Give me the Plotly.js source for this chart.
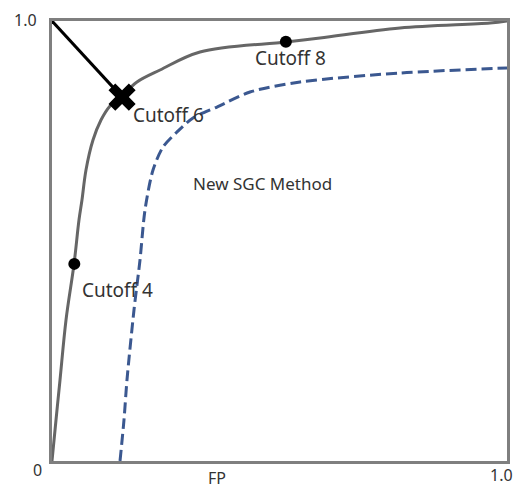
<!DOCTYPE html>
<html><head><meta charset="utf-8">
<script src="https://cdn.plot.ly/plotly-3.0.1.min.js"></script>
<style>body{margin:0;background:#fff}#c{width:525px;height:489px}</style>
</head><body><div id="c"></div>
<script>
// Gray ROC curve (cutoff-based method)
const rocX = [0, 0.0088, 0.0176, 0.0308, 0.0484, 0.0593, 0.0659, 0.0747, 0.0901, 0.1077, 0.1275, 0.1538, 0.1868, 0.2374, 0.3253, 0.5143, 0.5890, 0.7648, 0.9626, 1];
const rocY = [0, 0.0932, 0.1841, 0.3205, 0.4477, 0.5477, 0.5932, 0.6614, 0.7295, 0.775, 0.807, 0.830, 0.8614, 0.8886, 0.9295, 0.9523, 0.9614, 0.9841, 0.9955, 1];
// Blue dashed curve (New SGC Method)
const sgcX = [0.1495, 0.1582, 0.1648, 0.1802, 0.1934, 0.2044, 0.2220, 0.2440, 0.2747, 0.3099, 0.3626, 0.4352, 0.5451, 0.7648, 1];
const sgcY = [0, 0.0932, 0.1841, 0.3432, 0.4568, 0.5705, 0.6614, 0.7136, 0.7477, 0.7795, 0.8045, 0.8386, 0.8614, 0.8818, 0.8932];
// Cutoff points
const dotX = [0.049, 0.514];
const dotY = [0.448, 0.953];
const optX = [0.154];
const optY = [0.827];
// Line from ideal corner to optimal cutoff
const diagX = [0, 0.154];
const diagY = [1, 0.827];
// Labels
const labels = ["Cutoff 4", "Cutoff 6", "Cutoff 8", "New SGC Method"];
const labelX = [0.145, 0.255, 0.525, 0.463];
const labelY = [0.389, 0.786, 0.916, 0.630];
const labelSize = [19, 19, 19, 17];

const font = "Noto Sans, Open Sans, sans-serif";
const traces = [
  {x: sgcX, y: sgcY, mode: "lines", line: {color: "#3b5890", width: 3, dash: "11px,5px", shape: "spline", smoothing: 0.8}, hoverinfo: "skip"},
  {x: rocX, y: rocY, mode: "lines", line: {color: "#666666", width: 3, shape: "spline", smoothing: 1}, hoverinfo: "skip"},
  {x: diagX, y: diagY, mode: "lines", line: {color: "#000000", width: 3}, hoverinfo: "skip"},
  {x: dotX, y: dotY, mode: "markers", marker: {color: "#000", size: 12, symbol: "circle"}, hoverinfo: "skip"},
  {x: optX, y: optY, mode: "markers", marker: {color: "#000", size: 24, symbol: "x"}, hoverinfo: "skip"}
];
const ann = labels.map((t, i) => ({
  x: labelX[i], y: labelY[i], xref: "x", yref: "y", text: t, showarrow: false,
  xanchor: "center", yanchor: "middle",
  font: {family: font, size: labelSize[i], color: "#333"}
}));
const tf = {family: font, size: 16, color: "#333"};
ann.push({x: -0.031, y: -0.02, xref: "paper", yref: "paper", xanchor: "center", yanchor: "middle", text: "0", showarrow: false, font: tf});
ann.push({x: 0.989, y: -0.032, xref: "paper", yref: "paper", xanchor: "center", yanchor: "middle", text: "1.0", showarrow: false, font: tf});
ann.push({x: -0.059, y: 1.002, xref: "paper", yref: "paper", xanchor: "center", yanchor: "middle", text: "1.0", showarrow: false, font: tf});
ann.push({x: 0.363, y: -0.039, xref: "paper", yref: "paper", xanchor: "center", yanchor: "middle", text: "FP", showarrow: false, font: tf});

const layout = {
  width: 525, height: 489,
  margin: {l: 52, r: 18, t: 21, b: 28},
  showlegend: false,
  paper_bgcolor: "#fff", plot_bgcolor: "#fff",
  xaxis: {range: [0, 1], showgrid: false, zeroline: false, showticklabels: false, ticks: "", showline: true, mirror: true, linecolor: "#7f7f7f", linewidth: 3, fixedrange: true},
  yaxis: {range: [0, 1], showgrid: false, zeroline: false, showticklabels: false, ticks: "", showline: true, mirror: true, linecolor: "#7f7f7f", linewidth: 3, fixedrange: true},
  annotations: ann
};
Plotly.newPlot("c", traces, layout, {staticPlot: true});
</script></body></html>
